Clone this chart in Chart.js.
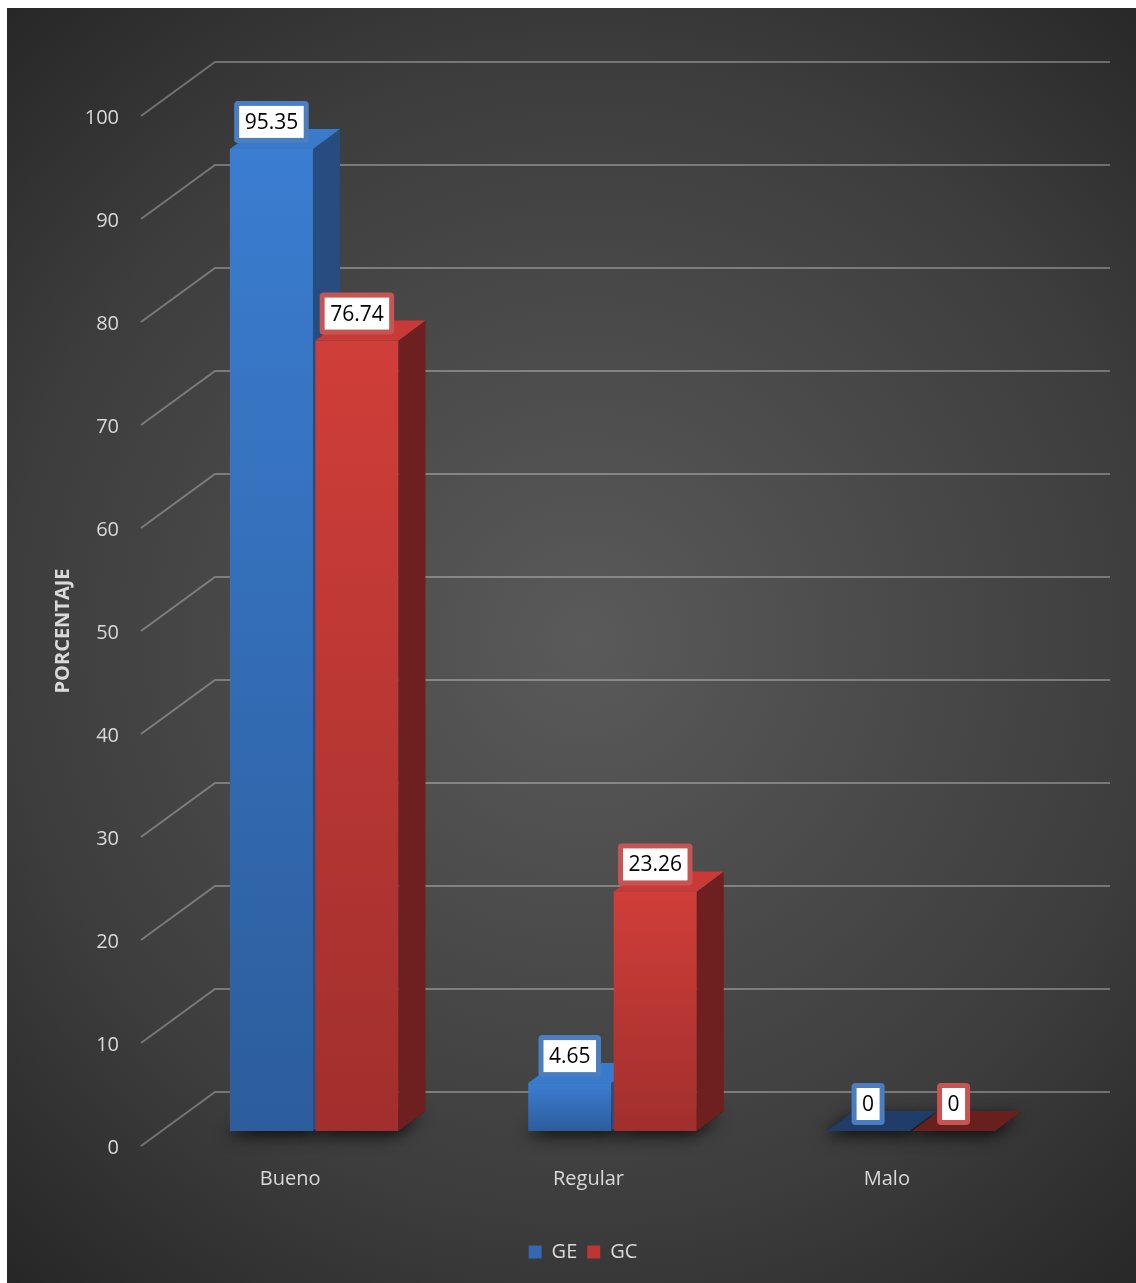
<!DOCTYPE html>
<html>
<head>
<meta charset="utf-8">
<title>Porcentaje GE / GC</title>
<script src="https://cdn.jsdelivr.net/npm/chart.js@4.4.1/dist/chart.umd.min.js"></script>
<style>
  html, body { margin: 0; padding: 0; background: #fff; }
  canvas { display: block; }
</style>
</head>
<body>
<canvas id="chart" width="1136" height="1283"></canvas>
<script>
const categories = ["Bueno", "Regular", "Malo"];
const seriesNames = ["GE", "GC"];
const geValues = [95.35, 4.65, 0];
const gcValues = [76.74, 23.26, 0];
const yMin = 0;
const yMax = 100;
const yStep = 10;
const yTitle = "PORCENTAJE";

// fake 3D: offsets of the bar front plane, the bar depth and the back wall
const FRONT = { dx: 24, dy: -15 };
const DEPTH = { dx: 27, dy: -20 };
const WALL = { dx: 74, dy: -54 };

const faceColors = [
  { front: ["#3b7dd1", "#2c5d9c"], top: "#3a7acb", side: "#264c80", flat: "#1f3d68", box: "#4a7ec0" },
  { front: ["#d03e39", "#a12f2d"], top: "#c93a36", side: "#6e1f1f", flat: "#6a1f1f", box: "#c65452" },
];

Chart.defaults.font.family = "'Open Sans', sans-serif";

function quad(ctx, pts) {
  ctx.beginPath();
  ctx.moveTo(pts[0], pts[1]);
  for (let i = 2; i < pts.length; i += 2) ctx.lineTo(pts[i], pts[i + 1]);
  ctx.closePath();
  ctx.fill();
}

function barBoxes(chart) {
  const out = [];
  chart.data.labels.forEach((_, i) => {
    chart.data.datasets.forEach((ds, d) => {
      const el = chart.getDatasetMeta(d).data[i];
      const p = el.getProps(["x", "y", "base", "width"], true);
      out.push({
        d: d,
        l: p.x - p.width / 2 + FRONT.dx,
        r: p.x + p.width / 2 + FRONT.dx,
        t: p.y + FRONT.dy,
        b: p.base + FRONT.dy,
      });
    });
  });
  return out;
}

const backdrop = {
  id: "backdrop",
  beforeDraw(chart) {
    const ctx = chart.ctx;
    const w = chart.width, h = chart.height;
    ctx.save();
    ctx.fillStyle = "#fff";
    ctx.fillRect(0, 0, w, h);
    const g = ctx.createRadialGradient(585, 640, 0, 585, 640, 880);
    g.addColorStop(0, "#5a5a5a");
    g.addColorStop(0.65, "#3d3d3d");
    g.addColorStop(1, "#252525");
    ctx.fillStyle = g;
    ctx.fillRect(7, 8, w - 7, h - 8);
    ctx.restore();
  },
};

const bars3d = {
  id: "bars3d",
  beforeDatasetsDraw(chart) {
    const ctx = chart.ctx;
    const y = chart.scales.y;
    const area = chart.chartArea;
    ctx.save();

    // gridlines: front diagonal + back wall
    ctx.strokeStyle = "rgba(255,255,255,0.3)";
    ctx.lineWidth = 2;
    y.ticks.forEach((t) => {
      const py = y.getPixelForValue(t.value);
      ctx.beginPath();
      ctx.moveTo(area.left, py);
      ctx.lineTo(area.left + WALL.dx, py + WALL.dy);
      ctx.lineTo(area.right + WALL.dx, py + WALL.dy);
      ctx.stroke();
    });

    const bars = barBoxes(chart);

    // soft shadow under each bar
    ctx.save();
    ctx.shadowColor = "rgba(0,0,0,0.75)";
    ctx.shadowBlur = 16;
    ctx.shadowOffsetX = -3;
    ctx.shadowOffsetY = 5;
    ctx.fillStyle = "#1e1e1e";
    bars.forEach((b) => {
      quad(ctx, [b.l, b.b, b.r, b.b, b.r + DEPTH.dx, b.b + DEPTH.dy, b.l + DEPTH.dx, b.b + DEPTH.dy]);
    });
    ctx.restore();

    bars.forEach((b) => {
      const c = faceColors[b.d];
      if (b.b - b.t > 0.5) {
        const g = ctx.createLinearGradient(0, b.t, 0, b.b);
        g.addColorStop(0, c.front[0]);
        g.addColorStop(1, c.front[1]);
        ctx.fillStyle = g;
        ctx.fillRect(b.l, b.t, b.r - b.l, b.b - b.t);
        ctx.fillStyle = c.side;
        quad(ctx, [b.r, b.t, b.r + DEPTH.dx, b.t + DEPTH.dy, b.r + DEPTH.dx, b.b + DEPTH.dy, b.r, b.b]);
        ctx.fillStyle = c.top;
      } else {
        ctx.fillStyle = c.flat;
      }
      quad(ctx, [b.l, b.t, b.r, b.t, b.r + DEPTH.dx, b.t + DEPTH.dy, b.l + DEPTH.dx, b.t + DEPTH.dy]);
    });

    ctx.restore();
    return false;
  },
  afterDraw(chart) {
    const ctx = chart.ctx;
    ctx.save();
    ctx.font = "21px 'Open Sans', sans-serif";
    ctx.textAlign = "center";
    ctx.textBaseline = "middle";
    chart.data.datasets.forEach((ds, d) => {
      chart.getDatasetMeta(d).data.forEach((el, i) => {
        const p = el.getProps(["x", "y"], true);
        const cx = p.x + FRONT.dx;
        const cy = p.y + FRONT.dy - 27;
        const txt = String(ds.data[i]);
        const w = ctx.measureText(txt).width + 21;
        const h = 42;
        ctx.fillStyle = faceColors[d].box;
        ctx.beginPath();
        ctx.roundRect(cx - w / 2, cy - h / 2, w, h, 4);
        ctx.fill();
        ctx.fillStyle = "#fff";
        ctx.fillRect(cx - w / 2 + 5, cy - h / 2 + 5, w - 10, h - 10);
        ctx.fillStyle = "#000";
        ctx.fillText(txt, cx, cy + 1);
      });
    });
    ctx.restore();
  },
};

new Chart(document.getElementById("chart"), {
  type: "bar",
  data: {
    labels: categories,
    datasets: [
      { label: seriesNames[0], data: geValues, backgroundColor: "#3568b1", borderWidth: 0 },
      { label: seriesNames[1], data: gcValues, backgroundColor: "#be3634", borderWidth: 0 },
    ],
  },
  options: {
    responsive: false,
    animation: false,
    devicePixelRatio: 1,
    categoryPercentage: 0.573,
    barPercentage: 0.972,
    layout: { padding: { left: 30, top: 116, right: 0, bottom: 11 } },
    plugins: {
      legend: {
        position: "bottom",
        labels: { color: "#d9d9d9", font: { size: 20 }, boxWidth: 13, boxHeight: 13, padding: 10 },
      },
      tooltip: { enabled: false },
    },
    scales: {
      x: {
        grid: { display: false },
        border: { display: false },
        ticks: { color: "#d9d9d9", font: { size: 20 }, padding: 13 },
        afterFit(s) { s.height = 86; },
      },
      y: {
        min: yMin,
        max: yMax,
        grid: { display: false },
        border: { display: false },
        ticks: { stepSize: yStep, color: "#d9d9d9", font: { size: 20 }, padding: 14, labelOffset: 2 },
        title: {
          display: true,
          text: yTitle,
          color: "#d9d9d9",
          font: { size: 20, weight: "bold" },
          padding: { top: 21, bottom: 0 },
        },
        afterFit(s) { s.width = 111; },
      },
      yRight: {
        position: "right",
        grid: { display: false },
        border: { display: false },
        ticks: { display: false },
        afterFit(s) { s.width = 100; },
      },
    },
  },
  plugins: [backdrop, bars3d],
});
</script>
</body>
</html>
